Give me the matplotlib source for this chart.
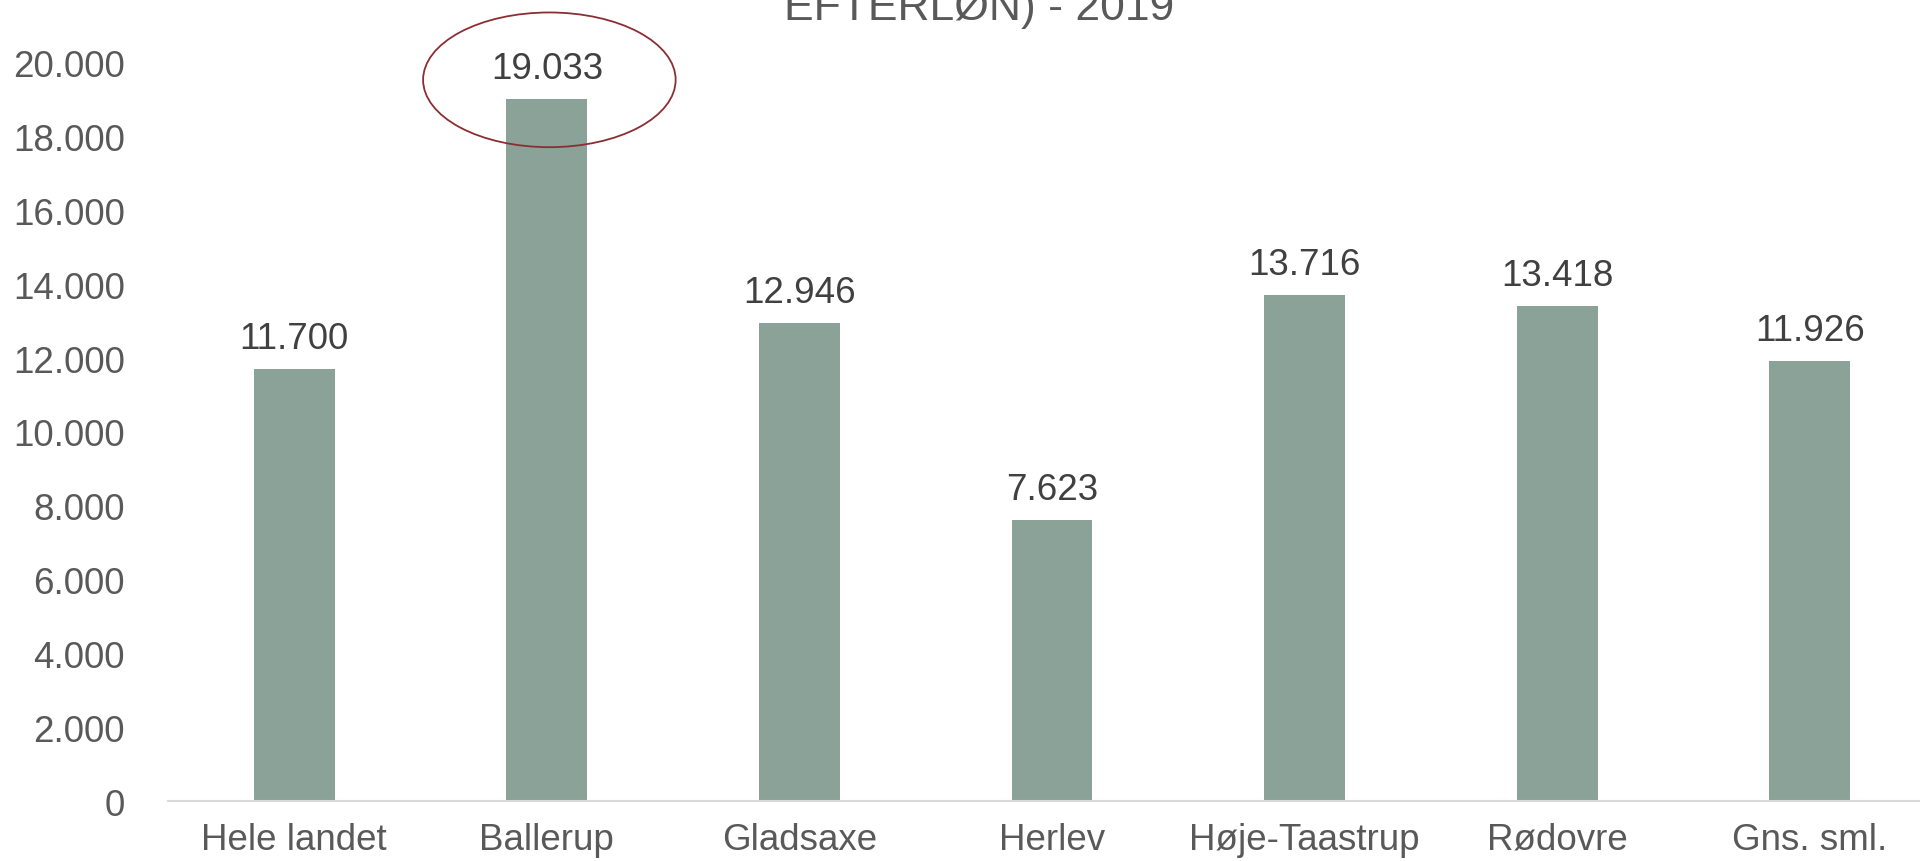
import matplotlib.pyplot as plt
from matplotlib.patches import Ellipse
from matplotlib.ticker import FuncFormatter

categories = ["Hele landet", "Ballerup", "Gladsaxe", "Herlev", "Høje-Taastrup", "Rødovre", "Gns. sml."]
values = [11700, 19033, 12946, 7623, 13716, 13418, 11926]
title_visible = "EFTERLØN) - 2019"
highlight = 1  # Ballerup is circled

plt.rcParams['font.family'] = ['Liberation Sans', 'DejaVu Sans']


def dk(v):
    return f"{int(v):,}".replace(",", ".")


fig = plt.figure(figsize=(19.2, 8.62), dpi=100)
# axes run a little past the right edge, like the original slide crop
ax = fig.add_axes([0.0875, 0.0696, 0.9208, 0.9304])

x = range(len(categories))
ax.bar(x, values, width=0.32, color="#8BA299", zorder=2)

for i, v in enumerate(values):
    ax.annotate(dk(v), (i, v), xytext=(0, 15), textcoords="offset points",
                ha="center", va="baseline", fontsize=26.5, color="#404040")

ax.set_xlim(-0.5, len(categories) - 0.5)
ax.set_ylim(0, 21730)
ax.set_yticks(range(0, 20001, 2000))
ax.yaxis.set_major_formatter(FuncFormatter(lambda v, p: dk(v)))
ax.set_xticks(list(x))
ax.set_xticklabels(categories)
ax.tick_params(axis="both", length=0, labelsize=26.5, labelcolor="#595959")
ax.tick_params(axis="x", pad=15)
ax.tick_params(axis="y", pad=31)

for s in ["top", "right", "left"]:
    ax.spines[s].set_visible(False)
ax.spines["bottom"].set_color("#D9D9D9")
ax.spines["bottom"].set_linewidth(1.5)

# red ellipse round the highest bar label
ax.add_patch(Ellipse((highlight + 0.01, 19540), 1.0, 3650, fill=False,
                     edgecolor="#8B2E34", linewidth=1.3, clip_on=False, zorder=3))

# title, top line cut off by the image edge
fig.text(0.51, 0.977, title_visible, ha="center", va="baseline",
         fontsize=32, color="#595959")

fig.savefig("out.png", dpi=100)
